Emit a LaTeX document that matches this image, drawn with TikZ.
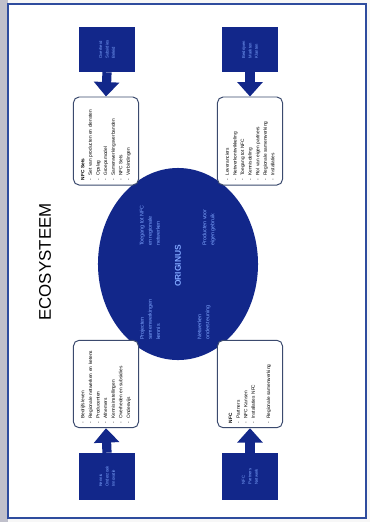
\documentclass[tikz,border=0pt]{standalone}
\usepackage{fontspec}
\setmainfont{Liberation Sans}
\usetikzlibrary{shapes.geometric,arrows.meta}
\definecolor{navy}{HTML}{12278A}
\definecolor{lightink}{HTML}{7FA6FF}
\definecolor{framecol}{HTML}{2E4C9E}
\definecolor{boxline}{HTML}{3B4A6E}
\newcommand{\boxfont}{\fontsize{3.4}{5.4}\selectfont}
\newcommand{\corefont}{\fontsize{3.8}{5.8}\selectfont}
\newcommand{\srcfont}{\fontsize{3}{4.6}\selectfont}
\newcommand{\itm}{-\hspace{2pt}}
\tikzset{
  source/.style={rotate=90, fill=navy, minimum width=1.125cm, minimum height=1.375cm,
    inner sep=0pt, text=lightink, font=\srcfont, align=left},
  infobox/.style={rotate=90, draw=boxline, line width=0.7pt, rounded corners=4pt,
    fill=white, minimum width=2.2cm, minimum height=1.625cm, text width=1.95cm,
    align=left, font=\boxfont},
  coretext/.style={rotate=90, text=lightink, font=\corefont, align=left, inner sep=0pt},
  feed/.style={navy, line width=0.23cm, -{Triangle[width=0.62cm,length=0.36cm]}},
}

\begin{document}
\begin{tikzpicture}[x=0.025cm, y=-0.025cm]
  % page and frame
  \fill[gray!6] (0,0) rectangle (370,522);
  \fill[blue!10!gray!45] (0,0) rectangle (8,522);
  \draw[framecol, line width=1.2pt, fill=white] (8,4) rectangle (366,518);

  \node[rotate=90, font=\fontsize{12}{14}\selectfont] (title) at (45,262) {ECOSYSTEEM};

  % centre
  \node[ellipse, fill=navy, inner sep=0pt, minimum width=4cm, minimum height=4.8cm] (core) at (178,264) {};
  \node[coretext, anchor=west] (coreA) at (150,246) {Toegang tot NFC\\en regionale\\netwerken};
  \node[coretext, anchor=west] (coreB) at (209,246) {Producten voor\\eigen gebruik};
  \node[rotate=90, text=lightink, font=\fontsize{6}{7}\selectfont\bfseries] (origin) at (178,266) {ORIGINUS};
  \node[coretext, anchor=west] (coreC) at (150,340) {Projecten\\samenwerkingen\\kennis};
  \node[coretext, anchor=west] (coreD) at (204,340) {Netwerken\\ondersteuning};

  % boxes
  \node[infobox] (boxTL) at (106,141) {\textbf{NFC Sets}\\
    \itm Set van producten en diensten\\ \itm Opslag\\ \itm Groepsmodel\\
    \itm Samenwerkingsverbanden\\ \itm NFC Sets\\ \itm Verbindingen};
  \node[infobox] (boxTR) at (250,141) {\itm Leveranciers\\
    \itm Netwerkontwikkeling\\ \itm Toegang tot NFC\\ \itm Kennisdeling\\
    \itm Rol van eigen partners\\ \itm Regionale samenwerking\\ \itm Installaties};
  \node[infobox, minimum width=2.05cm] (boxBL) at (106,384) {\itm Bedrijfsleven\\
    \itm Regionale netwerken en ketens\\ \itm Producenten\\ \itm Afnemers\\
    \itm Kennisinstellingen\\ \itm Overheden en subsidies\\ \itm Onderwijs};
  \node[infobox, minimum width=2.05cm] (boxBR) at (250,384) {\textbf{NFC}\\
    \itm Partners\\ \itm NFC Kansen\\ \itm Installaties NFC\\[5.4pt]
    \itm Regionale samenwerking};

  % sources
  \node[source] (srcTL) at (107,49.5) {Overheid\\Subsidies\\Beleid};
  \node[source] (srcTR) at (250,49.5) {Bedrijven\\Markten\\Klanten};
  \node[source, minimum width=1.175cm] (srcBL) at (107,476.5) {Kennis\\Onderzoek\\Innovatie};
  \node[source, minimum width=1.175cm] (srcBR) at (250,476.5) {NFC\\Partners\\Netwerk};

  \draw[feed] (srcTL.west) -- (boxTL.east);
  \draw[feed] (srcTR.west) -- (boxTR.east);
  \draw[feed] (srcBL.east) -- (boxBL.west);
  \draw[feed] (srcBR.east) -- (boxBR.west);
\end{tikzpicture}
\end{document}
